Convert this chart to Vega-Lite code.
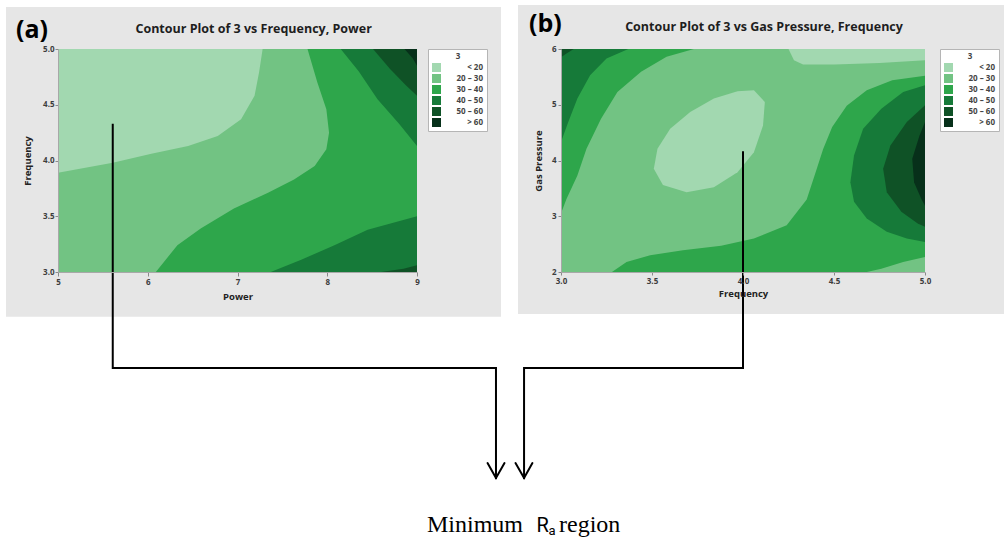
{
"$schema": "https://vega.github.io/schema/vega-lite/v6.json",
"background": "white",
"padding": {"left": 5, "top": 5, "right": 0, "bottom": 0},
"bounds": "flush",
"spacing": 144,
"config": {
  "view": {"stroke": null},
  "axis": {"labelFont": "Open Sans", "labelFontSize": 8, "labelFontWeight": "bold", "labelColor": "#3d3d3d", "titleFont": "Open Sans", "titleFontSize": 9.5, "titleFontWeight": "bold", "titleColor": "#222222", "grid": false, "domainColor": "#a8a8a8", "tickColor": "#8a8a8a", "labelFlush": false, "labelOverlap": false, "zindex": 2},
  "legend": {"labelFont": "Open Sans", "labelFontSize": 8, "labelFontWeight": "bold", "labelColor": "#444444", "titleFont": "Open Sans", "titleFontSize": 8, "titleFontWeight": "bold", "titleColor": "#444444", "symbolType": "square", "symbolSize": 81, "symbolStrokeWidth": 0, "symbolOpacity": 1, "padding": 4, "fillColor": "white", "strokeColor": "#b5b5b5", "rowPadding": 2, "titlePadding": 2, "labelAlign": "right", "labelOffset": 42, "titleAnchor": "middle", "orient": "right", "zindex": 2}
},
"resolve": {"scale": {"color": "independent"}, "legend": {"color": "independent"}},
"datasets": {
  "a_back": [{"x": 4.4206, "x2": 9.9359, "y": 2.599, "y2": 5.3767}],
  "b_back": [{"x": 2.7637, "x2": 5.434, "y": 1.2466, "y2": 6.789}],
  "a_links": [
    {"id": "line", "i": 0, "x": 5.61, "y": 4.32},
    {"id": "line", "i": 1, "x": 5.61, "y": 2.139},
    {"id": "line", "i": 2, "x": 9.88, "y": 2.139},
    {"id": "line", "i": 3, "x": 9.88, "y": 1.152},
    {"id": "head", "i": 0, "x": 9.786, "y": 1.287},
    {"id": "head", "i": 1, "x": 9.88, "y": 1.152},
    {"id": "head", "i": 2, "x": 9.975, "y": 1.287}
  ],
  "b_links": [
    {"id": "line", "i": 0, "x": 4.0, "y": 4.15},
    {"id": "line", "i": 1, "x": 4.0, "y": 0.278},
    {"id": "line", "i": 2, "x": 2.797, "y": 0.278},
    {"id": "line", "i": 3, "x": 2.797, "y": -1.695},
    {"id": "head", "i": 0, "x": 2.75, "y": -1.426},
    {"id": "head", "i": 1, "x": 2.797, "y": -1.695},
    {"id": "head", "i": 2, "x": 2.843, "y": -1.426}
  ],
  "a_poly": [
    {"id": "a0", "level": "20 – 30", "i": 0, "x": 5, "y": 3},
    {"id": "a0", "level": "20 – 30", "i": 1, "x": 9, "y": 3},
    {"id": "a0", "level": "20 – 30", "i": 2, "x": 9, "y": 5},
    {"id": "a0", "level": "20 – 30", "i": 3, "x": 5, "y": 5},
    {"id": "a1", "level": "< 20", "i": 0, "x": 5, "y": 3.89},
    {"id": "a1", "level": "< 20", "i": 1, "x": 5.61, "y": 3.98},
    {"id": "a1", "level": "< 20", "i": 2, "x": 6.04, "y": 4.06},
    {"id": "a1", "level": "< 20", "i": 3, "x": 6.45, "y": 4.13},
    {"id": "a1", "level": "< 20", "i": 4, "x": 6.78, "y": 4.22},
    {"id": "a1", "level": "< 20", "i": 5, "x": 7.04, "y": 4.37},
    {"id": "a1", "level": "< 20", "i": 6, "x": 7.19, "y": 4.58},
    {"id": "a1", "level": "< 20", "i": 7, "x": 7.24, "y": 4.79},
    {"id": "a1", "level": "< 20", "i": 8, "x": 7.28, "y": 5},
    {"id": "a1", "level": "< 20", "i": 9, "x": 5, "y": 5},
    {"id": "a2", "level": "30 – 40", "i": 0, "x": 7.78, "y": 5},
    {"id": "a2", "level": "30 – 40", "i": 1, "x": 7.89, "y": 4.7},
    {"id": "a2", "level": "30 – 40", "i": 2, "x": 7.99, "y": 4.46},
    {"id": "a2", "level": "30 – 40", "i": 3, "x": 8.02, "y": 4.25},
    {"id": "a2", "level": "30 – 40", "i": 4, "x": 7.99, "y": 4.1},
    {"id": "a2", "level": "30 – 40", "i": 5, "x": 7.86, "y": 3.95},
    {"id": "a2", "level": "30 – 40", "i": 6, "x": 7.63, "y": 3.83},
    {"id": "a2", "level": "30 – 40", "i": 7, "x": 7.34, "y": 3.71},
    {"id": "a2", "level": "30 – 40", "i": 8, "x": 6.96, "y": 3.57},
    {"id": "a2", "level": "30 – 40", "i": 9, "x": 6.59, "y": 3.39},
    {"id": "a2", "level": "30 – 40", "i": 10, "x": 6.33, "y": 3.24},
    {"id": "a2", "level": "30 – 40", "i": 11, "x": 6.18, "y": 3.09},
    {"id": "a2", "level": "30 – 40", "i": 12, "x": 6.09, "y": 3},
    {"id": "a2", "level": "30 – 40", "i": 13, "x": 9, "y": 3},
    {"id": "a2", "level": "30 – 40", "i": 14, "x": 9, "y": 5},
    {"id": "a3", "level": "40 – 50", "i": 0, "x": 8.15, "y": 5},
    {"id": "a3", "level": "40 – 50", "i": 1, "x": 8.35, "y": 4.8},
    {"id": "a3", "level": "40 – 50", "i": 2, "x": 8.56, "y": 4.55},
    {"id": "a3", "level": "40 – 50", "i": 3, "x": 8.8, "y": 4.33},
    {"id": "a3", "level": "40 – 50", "i": 4, "x": 9, "y": 4.13},
    {"id": "a3", "level": "40 – 50", "i": 5, "x": 9, "y": 5},
    {"id": "a4", "level": "40 – 50", "i": 0, "x": 7.37, "y": 3},
    {"id": "a4", "level": "40 – 50", "i": 1, "x": 7.71, "y": 3.11},
    {"id": "a4", "level": "40 – 50", "i": 2, "x": 8.08, "y": 3.24},
    {"id": "a4", "level": "40 – 50", "i": 3, "x": 8.45, "y": 3.38},
    {"id": "a4", "level": "40 – 50", "i": 4, "x": 9, "y": 3.5},
    {"id": "a4", "level": "40 – 50", "i": 5, "x": 9, "y": 3},
    {"id": "a5", "level": "50 – 60", "i": 0, "x": 8.51, "y": 5},
    {"id": "a5", "level": "50 – 60", "i": 1, "x": 8.7, "y": 4.82},
    {"id": "a5", "level": "50 – 60", "i": 2, "x": 8.87, "y": 4.68},
    {"id": "a5", "level": "50 – 60", "i": 3, "x": 9, "y": 4.58},
    {"id": "a5", "level": "50 – 60", "i": 4, "x": 9, "y": 5},
    {"id": "a6", "level": "50 – 60", "i": 0, "x": 8.6, "y": 3},
    {"id": "a6", "level": "50 – 60", "i": 1, "x": 8.85, "y": 3.03},
    {"id": "a6", "level": "50 – 60", "i": 2, "x": 9, "y": 3.06},
    {"id": "a6", "level": "50 – 60", "i": 3, "x": 9, "y": 3},
    {"id": "a7", "level": "> 60", "i": 0, "x": 8.86, "y": 5},
    {"id": "a7", "level": "> 60", "i": 1, "x": 8.95, "y": 4.92},
    {"id": "a7", "level": "> 60", "i": 2, "x": 9, "y": 4.85},
    {"id": "a7", "level": "> 60", "i": 3, "x": 9, "y": 5}
  ],
  "b_poly": [
    {"id": "b0", "level": "20 – 30", "i": 0, "x": 3, "y": 2},
    {"id": "b0", "level": "20 – 30", "i": 1, "x": 5, "y": 2},
    {"id": "b0", "level": "20 – 30", "i": 2, "x": 5, "y": 6},
    {"id": "b0", "level": "20 – 30", "i": 3, "x": 3, "y": 6},
    {"id": "b1", "level": "< 20", "i": 0, "x": 4.06, "y": 5.26},
    {"id": "b1", "level": "< 20", "i": 1, "x": 4.12, "y": 5.05},
    {"id": "b1", "level": "< 20", "i": 2, "x": 4.11, "y": 4.63},
    {"id": "b1", "level": "< 20", "i": 3, "x": 4.06, "y": 4.15},
    {"id": "b1", "level": "< 20", "i": 4, "x": 3.97, "y": 3.79},
    {"id": "b1", "level": "< 20", "i": 5, "x": 3.84, "y": 3.52},
    {"id": "b1", "level": "< 20", "i": 6, "x": 3.69, "y": 3.43},
    {"id": "b1", "level": "< 20", "i": 7, "x": 3.56, "y": 3.56},
    {"id": "b1", "level": "< 20", "i": 8, "x": 3.51, "y": 3.85},
    {"id": "b1", "level": "< 20", "i": 9, "x": 3.53, "y": 4.21},
    {"id": "b1", "level": "< 20", "i": 10, "x": 3.6, "y": 4.57},
    {"id": "b1", "level": "< 20", "i": 11, "x": 3.71, "y": 4.87},
    {"id": "b1", "level": "< 20", "i": 12, "x": 3.84, "y": 5.11},
    {"id": "b1", "level": "< 20", "i": 13, "x": 3.97, "y": 5.24},
    {"id": "b2", "level": "< 20", "i": 0, "x": 4.25, "y": 6},
    {"id": "b2", "level": "< 20", "i": 1, "x": 4.28, "y": 5.8},
    {"id": "b2", "level": "< 20", "i": 2, "x": 4.33, "y": 5.72},
    {"id": "b2", "level": "< 20", "i": 3, "x": 4.5, "y": 5.72},
    {"id": "b2", "level": "< 20", "i": 4, "x": 4.75, "y": 5.75},
    {"id": "b2", "level": "< 20", "i": 5, "x": 5, "y": 5.8},
    {"id": "b2", "level": "< 20", "i": 6, "x": 5, "y": 6},
    {"id": "b3", "level": "30 – 40", "i": 0, "x": 3.73, "y": 6},
    {"id": "b3", "level": "30 – 40", "i": 1, "x": 3.58, "y": 5.86},
    {"id": "b3", "level": "30 – 40", "i": 2, "x": 3.44, "y": 5.59},
    {"id": "b3", "level": "30 – 40", "i": 3, "x": 3.31, "y": 5.23},
    {"id": "b3", "level": "30 – 40", "i": 4, "x": 3.22, "y": 4.75},
    {"id": "b3", "level": "30 – 40", "i": 5, "x": 3.14, "y": 4.21},
    {"id": "b3", "level": "30 – 40", "i": 6, "x": 3.09, "y": 3.73},
    {"id": "b3", "level": "30 – 40", "i": 7, "x": 3.03, "y": 3.31},
    {"id": "b3", "level": "30 – 40", "i": 8, "x": 3, "y": 3.05},
    {"id": "b3", "level": "30 – 40", "i": 9, "x": 3, "y": 6},
    {"id": "b4", "level": "30 – 40", "i": 0, "x": 3.28, "y": 2},
    {"id": "b4", "level": "30 – 40", "i": 1, "x": 3.36, "y": 2.18},
    {"id": "b4", "level": "30 – 40", "i": 2, "x": 3.49, "y": 2.3},
    {"id": "b4", "level": "30 – 40", "i": 3, "x": 3.67, "y": 2.39},
    {"id": "b4", "level": "30 – 40", "i": 4, "x": 3.88, "y": 2.47},
    {"id": "b4", "level": "30 – 40", "i": 5, "x": 4.06, "y": 2.6},
    {"id": "b4", "level": "30 – 40", "i": 6, "x": 4.24, "y": 2.84},
    {"id": "b4", "level": "30 – 40", "i": 7, "x": 4.35, "y": 3.3},
    {"id": "b4", "level": "30 – 40", "i": 8, "x": 4.4, "y": 3.8},
    {"id": "b4", "level": "30 – 40", "i": 9, "x": 4.44, "y": 4.2},
    {"id": "b4", "level": "30 – 40", "i": 10, "x": 4.49, "y": 4.6},
    {"id": "b4", "level": "30 – 40", "i": 11, "x": 4.57, "y": 4.98},
    {"id": "b4", "level": "30 – 40", "i": 12, "x": 4.68, "y": 5.26},
    {"id": "b4", "level": "30 – 40", "i": 13, "x": 4.82, "y": 5.44},
    {"id": "b4", "level": "30 – 40", "i": 14, "x": 5, "y": 5.52},
    {"id": "b4", "level": "30 – 40", "i": 15, "x": 5, "y": 2.27},
    {"id": "b4", "level": "30 – 40", "i": 16, "x": 4.88, "y": 2.18},
    {"id": "b4", "level": "30 – 40", "i": 17, "x": 4.76, "y": 2.06},
    {"id": "b4", "level": "30 – 40", "i": 18, "x": 4.68, "y": 2},
    {"id": "b5", "level": "40 – 50", "i": 0, "x": 3.37, "y": 6},
    {"id": "b5", "level": "40 – 50", "i": 1, "x": 3.25, "y": 5.83},
    {"id": "b5", "level": "40 – 50", "i": 2, "x": 3.16, "y": 5.53},
    {"id": "b5", "level": "40 – 50", "i": 3, "x": 3.09, "y": 5.11},
    {"id": "b5", "level": "40 – 50", "i": 4, "x": 3.04, "y": 4.69},
    {"id": "b5", "level": "40 – 50", "i": 5, "x": 3, "y": 4.33},
    {"id": "b5", "level": "40 – 50", "i": 6, "x": 3, "y": 6},
    {"id": "b6", "level": "40 – 50", "i": 0, "x": 5, "y": 5.35},
    {"id": "b6", "level": "40 – 50", "i": 1, "x": 4.88, "y": 5.23},
    {"id": "b6", "level": "40 – 50", "i": 2, "x": 4.76, "y": 4.93},
    {"id": "b6", "level": "40 – 50", "i": 3, "x": 4.66, "y": 4.57},
    {"id": "b6", "level": "40 – 50", "i": 4, "x": 4.61, "y": 4.09},
    {"id": "b6", "level": "40 – 50", "i": 5, "x": 4.59, "y": 3.61},
    {"id": "b6", "level": "40 – 50", "i": 6, "x": 4.61, "y": 3.26},
    {"id": "b6", "level": "40 – 50", "i": 7, "x": 4.68, "y": 2.96},
    {"id": "b6", "level": "40 – 50", "i": 8, "x": 4.79, "y": 2.72},
    {"id": "b6", "level": "40 – 50", "i": 9, "x": 4.9, "y": 2.6},
    {"id": "b6", "level": "40 – 50", "i": 10, "x": 5, "y": 2.54},
    {"id": "b7", "level": "50 – 60", "i": 0, "x": 3.07, "y": 6},
    {"id": "b7", "level": "50 – 60", "i": 1, "x": 3.03, "y": 5.92},
    {"id": "b7", "level": "50 – 60", "i": 2, "x": 3, "y": 5.85},
    {"id": "b7", "level": "50 – 60", "i": 3, "x": 3, "y": 6},
    {"id": "b8", "level": "50 – 60", "i": 0, "x": 5, "y": 4.99},
    {"id": "b8", "level": "50 – 60", "i": 1, "x": 4.9, "y": 4.69},
    {"id": "b8", "level": "50 – 60", "i": 2, "x": 4.81, "y": 4.27},
    {"id": "b8", "level": "50 – 60", "i": 3, "x": 4.77, "y": 3.85},
    {"id": "b8", "level": "50 – 60", "i": 4, "x": 4.79, "y": 3.43},
    {"id": "b8", "level": "50 – 60", "i": 5, "x": 4.87, "y": 3.08},
    {"id": "b8", "level": "50 – 60", "i": 6, "x": 4.96, "y": 2.87},
    {"id": "b8", "level": "50 – 60", "i": 7, "x": 5, "y": 2.81},
    {"id": "b9", "level": "> 60", "i": 0, "x": 5, "y": 4.69},
    {"id": "b9", "level": "> 60", "i": 1, "x": 4.97, "y": 4.45},
    {"id": "b9", "level": "> 60", "i": 2, "x": 4.93, "y": 4.03},
    {"id": "b9", "level": "> 60", "i": 3, "x": 4.94, "y": 3.61},
    {"id": "b9", "level": "> 60", "i": 4, "x": 4.98, "y": 3.31},
    {"id": "b9", "level": "> 60", "i": 5, "x": 5, "y": 3.19}
  ]
},
"hconcat": [
  {
    "width": 359, "height": 223,
    "encoding": {
      "x": {"field": "x", "type": "quantitative", "scale": {"domain": [5, 9], "nice": false, "zero": false}, "axis": {"title": "Power", "values": [5, 6, 7, 8, 9], "format": "d", "tickSize": 4, "labelPadding": 2, "titlePadding": 5, "zindex": 2}},
      "y": {"field": "y", "type": "quantitative", "scale": {"domain": [3, 5], "nice": false, "zero": false}, "axis": {"title": "Frequency", "values": [3, 3.5, 4, 4.5, 5], "format": ".1f", "tickSize": 3, "labelPadding": 1, "titlePadding": 10, "zindex": 2}}
    },
    "layer": [
      {"data": {"name": "a_back"}, "mark": {"type": "rect", "color": "#e6e6e6"}, "encoding": {"x2": {"field": "x2"}, "y2": {"field": "y2"}}},
      {
        "data": {"name": "a_poly"},
        "encoding": {
          "color": {"field": "level", "type": "nominal", "scale": {"domain": ["< 20", "20 – 30", "30 – 40", "40 – 50", "50 – 60", "> 60"], "range": ["#a2d8b0", "#72c383", "#2ea64b", "#167a39", "#0f5226", "#07301a"]}, "legend": {"title": "3", "offset": 11, "zindex": 2}},
          "detail": {"field": "id"},
          "order": {"field": "i", "type": "quantitative"}
        },
        "layer": [
          {"transform": [{"filter": {"field": "level", "equal": "20 – 30"}}], "mark": {"type": "line", "filled": true, "strokeWidth": 0}},
          {"transform": [{"filter": {"field": "level", "equal": "< 20"}}], "mark": {"type": "line", "filled": true, "strokeWidth": 0}},
          {"transform": [{"filter": {"field": "level", "equal": "30 – 40"}}], "mark": {"type": "line", "filled": true, "strokeWidth": 0}},
          {"transform": [{"filter": {"field": "level", "equal": "40 – 50"}}], "mark": {"type": "line", "filled": true, "strokeWidth": 0}},
          {"transform": [{"filter": {"field": "level", "equal": "50 – 60"}}], "mark": {"type": "line", "filled": true, "strokeWidth": 0}},
          {"transform": [{"filter": {"field": "level", "equal": "> 60"}}], "mark": {"type": "line", "filled": true, "strokeWidth": 0}}
        ]
      },
      {"data": {"name": "a_links"}, "transform": [{"filter": {"field": "id", "equal": "line"}}], "mark": {"type": "line", "color": "black", "strokeWidth": 2, "strokeCap": "square", "strokeJoin": "miter"}, "encoding": {"order": {"field": "i", "type": "quantitative"}}},
      {"data": {"name": "a_links"}, "transform": [{"filter": {"field": "id", "equal": "head"}}], "mark": {"type": "line", "color": "black", "strokeWidth": 2, "strokeCap": "round", "strokeJoin": "miter"}, "encoding": {"order": {"field": "i", "type": "quantitative"}}},
      {"data": {"values": [{"t": "Contour Plot of 3 vs Frequency, Power", "x": 7.18, "y": 5.1408}]}, "mark": {"type": "text", "font": "Open Sans", "fontWeight": "bold", "fontSize": 12.5, "align": "center", "baseline": "alphabetic", "color": "#1e1e1e"}, "encoding": {"text": {"field": "t"}}},
      {"data": {"values": [{"t": "(a)", "x": 4.532, "y": 5.0987}]}, "mark": {"type": "text", "font": "Open Sans", "fontWeight": "bold", "fontSize": 25, "align": "left", "baseline": "alphabetic", "color": "black"}, "encoding": {"text": {"field": "t"}}},
      {"data": {"values": [{"t": "Minimum", "x": 9.111, "y": 0.671}, {"t": "region", "x": 10.582, "y": 0.671}]}, "mark": {"type": "text", "font": "Liberation Serif", "fontSize": 24, "align": "left", "baseline": "alphabetic", "color": "black"}, "encoding": {"text": {"field": "t"}}},
      {"data": {"values": [{"t": "R", "x": 10.331, "y": 0.671}]}, "mark": {"type": "text", "font": "Roboto", "fontSize": 20, "align": "left", "baseline": "alphabetic", "color": "black"}, "encoding": {"text": {"field": "t"}}},
      {"data": {"values": [{"t": "a", "x": 10.465, "y": 0.637}]}, "mark": {"type": "text", "font": "Roboto", "fontSize": 13, "align": "left", "baseline": "alphabetic", "color": "black"}, "encoding": {"text": {"field": "t"}}}
    ]
  },
  {
    "width": 364, "height": 223,
    "encoding": {
      "x": {"field": "x", "type": "quantitative", "scale": {"domain": [3, 5], "nice": false, "zero": false}, "axis": {"title": "Frequency", "values": [3, 3.5, 4, 4.5, 5], "format": ".1f", "tickSize": 3, "labelPadding": 2, "titlePadding": 3, "zindex": 2}},
      "y": {"field": "y", "type": "quantitative", "scale": {"domain": [2, 6], "nice": false, "zero": false}, "axis": {"title": "Gas Pressure", "values": [2, 3, 4, 5, 6], "format": "d", "tickSize": 3, "labelPadding": 2, "titlePadding": 8, "zindex": 2}}
    },
    "layer": [
      {"data": {"name": "b_back"}, "mark": {"type": "rect", "color": "#e6e6e6"}, "encoding": {"x2": {"field": "x2"}, "y2": {"field": "y2"}}},
      {
        "data": {"name": "b_poly"},
        "encoding": {
          "color": {"field": "level", "type": "nominal", "scale": {"domain": ["< 20", "20 – 30", "30 – 40", "40 – 50", "50 – 60", "> 60"], "range": ["#a2d8b0", "#72c383", "#2ea64b", "#167a39", "#0f5226", "#07301a"]}, "legend": {"title": "3", "offset": 15, "zindex": 2}},
          "detail": {"field": "id"},
          "order": {"field": "i", "type": "quantitative"}
        },
        "layer": [
          {"transform": [{"filter": {"field": "level", "equal": "20 – 30"}}], "mark": {"type": "line", "filled": true, "strokeWidth": 0}},
          {"transform": [{"filter": {"field": "level", "equal": "< 20"}}], "mark": {"type": "line", "filled": true, "strokeWidth": 0}},
          {"transform": [{"filter": {"field": "level", "equal": "30 – 40"}}], "mark": {"type": "line", "filled": true, "strokeWidth": 0}},
          {"transform": [{"filter": {"field": "level", "equal": "40 – 50"}}], "mark": {"type": "line", "filled": true, "strokeWidth": 0}},
          {"transform": [{"filter": {"field": "level", "equal": "50 – 60"}}], "mark": {"type": "line", "filled": true, "strokeWidth": 0}},
          {"transform": [{"filter": {"field": "level", "equal": "> 60"}}], "mark": {"type": "line", "filled": true, "strokeWidth": 0}}
        ]
      },
      {"data": {"name": "b_links"}, "transform": [{"filter": {"field": "id", "equal": "line"}}], "mark": {"type": "line", "color": "black", "strokeWidth": 2, "strokeCap": "square", "strokeJoin": "miter"}, "encoding": {"order": {"field": "i", "type": "quantitative"}}},
      {"data": {"name": "b_links"}, "transform": [{"filter": {"field": "id", "equal": "head"}}], "mark": {"type": "line", "color": "black", "strokeWidth": 2, "strokeCap": "round", "strokeJoin": "miter"}, "encoding": {"order": {"field": "i", "type": "quantitative"}}},
      {"data": {"values": [{"t": "Contour Plot of 3 vs Gas Pressure, Frequency", "x": 4.1154, "y": 6.328}]}, "mark": {"type": "text", "font": "Open Sans", "fontWeight": "bold", "fontSize": 12.5, "align": "center", "baseline": "alphabetic", "color": "#1e1e1e"}, "encoding": {"text": {"field": "t"}}},
      {"data": {"values": [{"t": "(b)", "x": 2.824, "y": 6.305}]}, "mark": {"type": "text", "font": "Open Sans", "fontWeight": "bold", "fontSize": 25, "align": "left", "baseline": "alphabetic", "color": "black"}, "encoding": {"text": {"field": "t"}}}
    ]
  }
]
}
